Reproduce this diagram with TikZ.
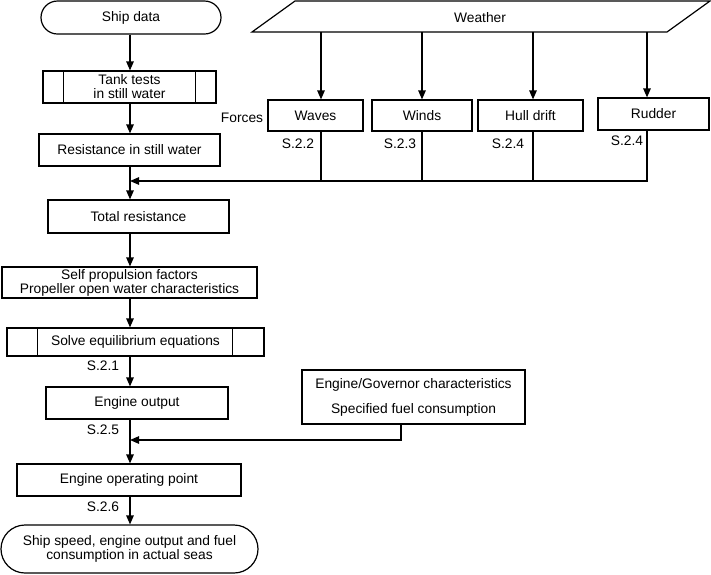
\documentclass[tikz,border=0pt]{standalone}
\usepackage{fontspec}
\setmainfont{Liberation Sans}
\usetikzlibrary{arrows.meta}
\begin{document}
\begin{tikzpicture}[x=1pt,y=-1pt,
  txt/.style={font=\fontsize{13.8}{14}\selectfont},
  box/.style={txt, draw, line width=1.2pt, rectangle, inner sep=0pt, align=center},
  term/.style={box, rounded corners=#1},
  arr/.style={-{Triangle[length=9pt,width=7.5pt]}, line width=1.2pt},
  ln/.style={line width=1.2pt},
  lbl/.style={txt, inner sep=0pt}]
\useasboundingbox (0,0) rectangle (711,574);
% main column
\coordinate (c) at (130,0);
\node[term=16.5pt, minimum width=180pt, minimum height=33pt] (ship) at (131,17.5) {Ship data};
\node[box, minimum width=173pt, minimum height=32pt] (tank) at (129.5,87) {Tank tests\\in still water};
\draw[ln] ([xshift=21pt]tank.north west) -- ([xshift=21pt]tank.south west);
\draw[ln] ([xshift=-21pt]tank.north east) -- ([xshift=-21pt]tank.south east);
\node[box, minimum width=181pt, minimum height=32pt] (res) at (129.5,150) {Resistance in still water};
\node[box, minimum width=181pt, minimum height=33pt] (tot) at (138.5,216.5) {Total resistance};
\node[box, minimum width=255pt, minimum height=31pt] (self) at (129.5,282.5) {Self propulsion factors\\Propeller open water characteristics};
\node[box, minimum width=257pt, minimum height=28pt] (solve) at (135.5,342) {Solve equilibrium equations};
\draw[ln] ([xshift=31pt]solve.north west) -- ([xshift=31pt]solve.south west);
\draw[ln] ([xshift=-32pt]solve.north east) -- ([xshift=-32pt]solve.south east);
\node[box, minimum width=182pt, minimum height=32pt] (eout) at (137,403) {Engine output};
\node[box, minimum width=224pt, minimum height=32pt] (eop) at (129,480) {Engine operating point};
\node[term=24pt, minimum width=257pt, minimum height=48pt] (final) at (129.5,549) {Ship speed, engine output and fuel\\consumption in actual seas};
% weather
\draw[ln] (252,32) -- (295,1) -- (710,1) -- (667,32) -- cycle;
\node[lbl] (weather) at (480,18) {Weather};
\coordinate (w1) at (321,32);
\coordinate (w2) at (422,32);
\coordinate (w3) at (533,32);
\coordinate (w4) at (647,32);
\node[box, minimum width=95pt, minimum height=31pt] (waves) at (315.5,115.5) {Waves};
\node[box, minimum width=100pt, minimum height=31pt] (winds) at (422,115.5) {Winds};
\node[box, minimum width=105pt, minimum height=31pt] (hull) at (530.5,115.5) {Hull drift};
\node[box, minimum width=111pt, minimum height=32pt] (rud) at (653.5,114) {Rudder};
\node[lbl] (forces) at (242,118) {Forces};
\node[lbl] (s22) at (298,144) {S.2.2};
\node[lbl] (s23) at (400,144) {S.2.3};
\node[lbl] (s24a) at (508,144) {S.2.4};
\node[lbl] (s24b) at (627,141) {S.2.4};
\coordinate (j1) at (130,181);
\draw[arr] (w1) -- (w1 |- waves.north);
\draw[arr] (w2) -- (w2 |- winds.north);
\draw[arr] (w3) -- (w3 |- hull.north);
\draw[arr] (w4) -- (w4 |- rud.north);
\draw[ln] (w1 |- waves.south) -- (w1 |- j1);
\draw[ln] (w2 |- winds.south) -- (w2 |- j1);
\draw[ln] (w3 |- hull.south) -- (w3 |- j1);
\draw[arr] (w4 |- rud.south) -- (w4 |- j1) -- (j1);
% engine governor
\node[box, minimum width=223pt, minimum height=54pt] (eg) at (413.5,397)
  {Engine/Governor characteristics\\[11pt]Specified fuel consumption};
\coordinate (g) at (401,440);
\coordinate (j2) at (130,440);
\draw[arr] (g |- eg.south) -- (g) -- (j2);
% labels
\node[lbl] (s21) at (103,366) {S.2.1};
\node[lbl] (s25) at (103,430) {S.2.5};
\node[lbl] (s26) at (103,507) {S.2.6};
% main arrows
\draw[arr] (c |- ship.south) -- (c |- tank.north);
\draw[arr] (c |- tank.south) -- (c |- res.north);
\draw[arr] (c |- res.south) -- (c |- tot.north);
\draw[arr] (c |- tot.south) -- (c |- self.north);
\draw[arr] (c |- self.south) -- (c |- solve.north);
\draw[arr] (c |- solve.south) -- (c |- eout.north);
\draw[arr] (c |- eout.south) -- (c |- eop.north);
\draw[arr] (c |- eop.south) -- (c |- final.north);
\end{tikzpicture}
\end{document}
